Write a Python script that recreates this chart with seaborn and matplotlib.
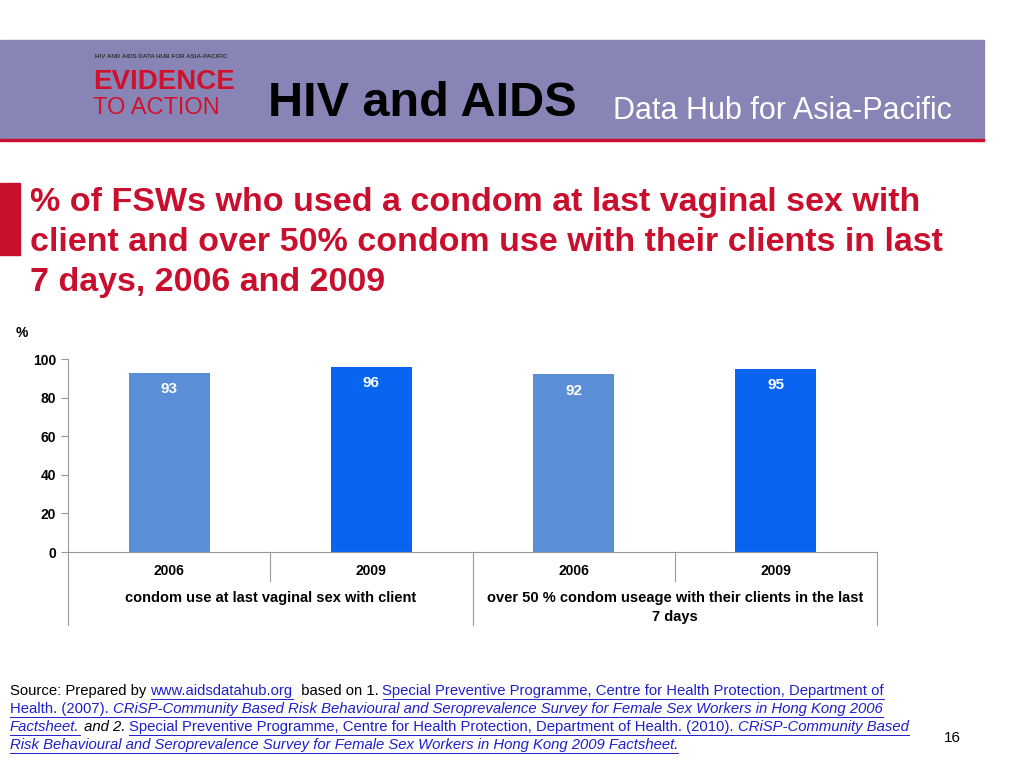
import matplotlib.pyplot as plt
import matplotlib as mpl
import seaborn as sns
import pandas as pd

mpl.rcParams['font.family'] = 'Liberation Sans'

groups = ['condom use at last vaginal sex with client',
          'over 50 % condom useage with their clients in the last\n7 days']
years = ['2006', '2009']
values = [[93, 96], [92, 95]]
yticks = [0, 20, 40, 60, 80, 100]
bar_colors = ['#5A8FD8', '#0A64F2']

W, H = 1024, 768
fig = plt.figure(figsize=(10.24, 7.68), dpi=100)

def fx(px):
    return px / W

def fy(py):
    return 1 - py / H

# header band
fig.patches.append(mpl.patches.Rectangle((0, fy(140)), fx(984), fy(40) - fy(140),
                                         transform=fig.transFigure, color='#8884B6', zorder=0))
fig.patches.append(mpl.patches.Rectangle((0, fy(141)), fx(984), 2 / H,
                                         transform=fig.transFigure, color='#C8102E', zorder=1))
fig.text(fx(95), fy(58), 'HIV AND AIDS DATA HUB FOR ASIA-PACIFIC', fontsize=4.5, weight='bold', color='#333333')
fig.text(fx(93), fy(82), 'EVIDENCE', fontsize=20, weight='bold', color='#D0112B', va='center')
fig.text(fx(93), fy(108), 'TO ACTION', fontsize=17, color='#D0112B', va='center')
fig.text(fx(268), fy(103), 'HIV and AIDS', fontsize=35, weight='bold', color='black', va='center')
fig.text(fx(613), fy(111), 'Data Hub for Asia-Pacific', fontsize=22, color='white', va='center')

# title
fig.patches.append(mpl.patches.Rectangle((0, fy(255)), fx(20), fy(183) - fy(255),
                                         transform=fig.transFigure, color='#C8102E'))
fig.text(fx(30), fy(187), '% of FSWs who used a condom at last vaginal sex with\n'
         'client and over 50% condom use with their clients in last\n7 days, 2006 and 2009',
         fontsize=24.5, weight='bold', color='#C8102E', va='top', linespacing=1.38)

# chart
rows = []
for g, vals in zip(groups, values):
    for y, v in zip(years, vals):
        rows.append({'cat': g + y, 'year': y, 'value': v})
df = pd.DataFrame(rows)

ax = fig.add_axes([fx(68), fy(552), fx(877) - fx(68), fy(359) - fy(552)])
sns.barplot(data=df, x='cat', y='value', hue='year', palette=bar_colors, dodge=False,
            width=0.4, saturation=1, ax=ax, legend=False)
ax.set_ylim(0, 100)
ax.set_xlim(-0.5, 3.5)
ax.set_yticks(yticks)
ax.set_yticklabels([str(t) for t in yticks], fontsize=10, weight='bold')
ax.set_xticks([])
ax.set_xlabel('')
ax.set_ylabel('')
for s in ['top', 'right']:
    ax.spines[s].set_visible(False)
ax.spines['left'].set_color('#999999')
ax.spines['bottom'].set_color('#999999')
ax.tick_params(axis='y', length=5, color='#999999')
fig.text(fx(16), fy(333), '%', fontsize=10, weight='bold', va='center')

for i, r in df.iterrows():
    ax.text(i, r['value'] - 8.5, str(r['value']), ha='center', va='center',
            color='white', fontsize=11, weight='bold')

# category axis
trans = ax.get_xaxis_transform()
for i, y in enumerate(years * 2):
    ax.text(i, -0.1, y, transform=trans, ha='center', va='center', fontsize=10, weight='bold')
for gi, g in enumerate(groups):
    ax.text(gi * 2 + 0.5, -0.2, g, transform=trans, ha='center', va='top', fontsize=10.5,
            weight='bold', linespacing=1.45)
for x, low in [(-0.5, -0.38), (0.5, -0.15), (1.5, -0.38), (2.5, -0.15), (3.5, -0.38)]:
    ax.plot([x, x], [0, low], transform=trans, color='#999999', lw=0.8, clip_on=False)

# source text with link segments
link = '#1F1FCC'
lines = [
    [('Source: Prepared by ', 'k', False, False), ('www.aidsdatahub.org', link, True, False),
     ('  based on 1. ', 'k', False, False),
     ('Special Preventive Programme, Centre for Health Protection, Department of', link, True, False)],
    [('Health. (2007). ', link, True, False),
     ('CRiSP-Community Based Risk Behavioural and Seroprevalence Survey for Female Sex Workers in Hong Kong 2006', link, True, True)],
    [('Factsheet.', link, True, True), (' and 2. ', 'k', False, True),
     ('Special Preventive Programme, Centre for Health Protection, Department of Health. (2010). ', link, True, False),
     ('CRiSP-Community Based', link, True, True)],
    [('Risk Behavioural and Seroprevalence Survey for Female Sex Workers in Hong Kong 2009 Factsheet.', link, True, True)],
]
fig.canvas.draw()
renderer = fig.canvas.get_renderer()
for li, segs in enumerate(lines):
    x = 10
    ypx = 691 + li * 18
    for text, col, under, ital in segs:
        t = fig.text(fx(x), fy(ypx), text, fontsize=10.7, color=col, va='center',
                     style='italic' if ital else 'normal')
        bb = t.get_window_extent(renderer)
        if under:
            fig.lines.append(mpl.lines.Line2D([fx(x), fx(x + bb.width)], [fy(ypx + 8)] * 2,
                                              transform=fig.transFigure, color=col, lw=0.7))
        x += bb.width
fig.text(fx(952), fy(738), '16', fontsize=11, ha='center', va='center')

fig.savefig('out.png', dpi=100)
